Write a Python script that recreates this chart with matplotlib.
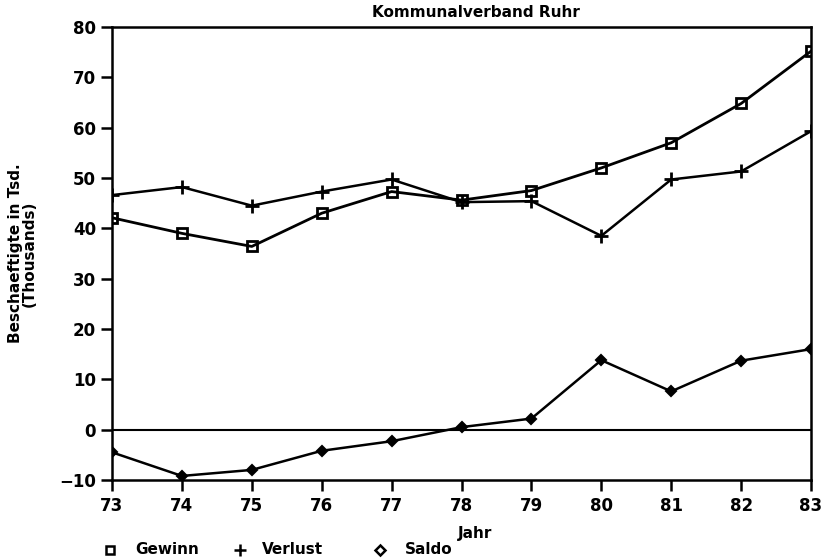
import matplotlib.pyplot as plt
from matplotlib.lines import Line2D

# Data (thousands of employees)
jahre = [73, 74, 75, 76, 77, 78, 79, 80, 81, 82, 83]
gewinn = [42.1, 39.0, 36.4, 43.0, 47.3, 45.6, 47.5, 52.0, 57.0, 64.8, 75.2]
verlust = [46.6, 48.2, 44.5, 47.3, 49.7, 45.2, 45.4, 38.5, 49.7, 51.3, 59.3]
saldo = [-4.5, -9.2, -8.0, -4.2, -2.3, 0.5, 2.2, 13.8, 7.6, 13.7, 16.0]

y_ticks = [-10, 0, 10, 20, 30, 40, 50, 60, 70, 80]
legend_labels = ['Gewinn', 'Verlust', 'Saldo']

plt.rcParams['font.family'] = ['DejaVu Sans']
plt.rcParams['font.weight'] = 'bold'

fig = plt.figure(figsize=(8.27, 5.6), dpi=100)
ax = fig.add_axes([0.1354, 0.1429, 0.9807 - 0.1354, 0.9518 - 0.1429])

ax.plot(jahre, gewinn, color='black', lw=2, marker='s', ms=7,
        mfc='none', mew=2)
ax.plot(jahre, verlust, color='black', lw=1.8, marker='+', ms=10, mew=2)
ax.plot(jahre, saldo, color='black', lw=1.8, marker='D', ms=5, mew=1.5)
ax.axhline(0, color='black', lw=1.5)

ax.set_xlim(73, 83)
ax.set_ylim(-10, 80)
ax.set_xticks(jahre)
ax.set_yticks(y_ticks)
ax.tick_params(axis='both', direction='out', length=8, width=1.8,
               labelsize=12, colors='black')
ax.tick_params(axis='x', pad=4)
for lab in ax.get_xticklabels() + ax.get_yticklabels():
    lab.set_fontweight('bold')
for sp in ax.spines.values():
    sp.set_linewidth(1.8)

ax.set_ylabel('Beschaeftigte in Tsd.\n(Thousands)', fontsize=11,
              fontweight='bold', labelpad=16, linespacing=0.95)

fig.text(0.575, 0.978, 'Kommunalverband Ruhr', ha='center', va='center',
         fontsize=11, fontweight='bold')
fig.text(0.575, 0.048, 'Jahr', ha='center', va='center',
         fontsize=11, fontweight='bold')

# Legend row at the bottom, placed by hand like the original plotter output
markers = [('s', 6), ('+', 8), ('D', 5)]
marker_x = [0.133, 0.290, 0.459]
text_x = [0.163, 0.317, 0.490]
leg_y = 0.018
for (m, ms), mx, tx, lab in zip(markers, marker_x, text_x, legend_labels):
    fig.add_artist(Line2D([mx], [leg_y], transform=fig.transFigure, ls='none',
                          marker=m, ms=ms, mfc='none', mec='black', mew=1.8))
    fig.text(tx, leg_y, lab, ha='left', va='center', fontsize=11,
             fontweight='bold')

fig.savefig('out.png', dpi=100)
